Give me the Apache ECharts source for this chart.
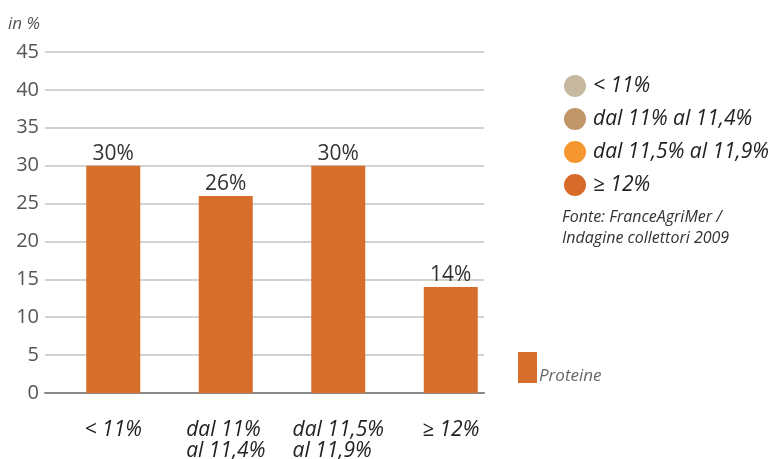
<!DOCTYPE html>
<html>
<head>
<meta charset="utf-8">
<script src="https://cdn.jsdelivr.net/npm/echarts@6/dist/echarts.min.js"></script>
<style>
  html, body { margin: 0; padding: 0; background: #fff; }
  #chart { width: 776px; height: 459px; }
</style>
</head>
<body>
<div id="chart"></div>
<script>
// Protein classes of the harvested wheat (share of collected volume, %)
const categories = ['< 11%', 'dal 11%\nal 11,4%', 'dal 11,5%\nal 11,9%', '≥ 12%'];
const proteine = [30, 26, 30, 14];
const seriesName = 'Proteine';
const classNames = ['< 11%', 'dal 11% al 11,4%', 'dal 11,5% al 11,9%', '≥ 12%'];
const yMin = 0, yMax = 45, yStep = 5;
const unitLabel = 'in %';
const sourceLines = ['Fonte: FranceAgriMer /', 'Indagine collettori 2009'];

const classColors = ['#c7b9a0', '#c1976a', '#f5962f', '#d86b2a'];
const barColor = '#d86e2b';
const FONT = "'Open Sans', 'DejaVu Sans', sans-serif";

const chart = echarts.init(document.getElementById('chart'), null, { renderer: 'canvas' });

const classSeries = classNames.map((name, i) => ({
  name: name,
  type: 'scatter',
  xAxisIndex: 1,
  yAxisIndex: 1,
  data: [],
  itemStyle: { color: classColors[i], opacity: 1 }
}));

chart.setOption({
  animation: false,
  textStyle: { fontFamily: FONT },
  grid: [
    { left: 45, right: 292, top: 52, bottom: 66, outerBoundsMode: 'none', containLabel: false },
    { left: 57, width: 450, top: 52, bottom: 66, outerBoundsMode: 'none', containLabel: false }
  ],
  xAxis: [
    {
      gridIndex: 0, type: 'category', data: categories,
      axisLine: { show: true, lineStyle: { color: '#8a8a8a', width: 2 } },
      axisTick: { show: false }, axisLabel: { show: false }, splitLine: { show: false }
    },
    {
      gridIndex: 1, type: 'category', data: categories,
      axisLine: { show: false }, axisTick: { show: false },
      axisLabel: {
        margin: 27,
        fontFamily: FONT,
        formatter: v => v.split('\n').map(l => '{a|' + l + '}').join('\n'),
        rich: {
          a: { fontSize: 21, fontStyle: 'italic', color: '#222', lineHeight: 21, align: 'left', fontFamily: FONT }
        }
      }
    }
  ],
  yAxis: [
    {
      gridIndex: 0, type: 'value', min: yMin, max: yMax, interval: yStep,
      axisLine: { show: false }, axisTick: { show: false },
      axisLabel: { fontSize: 20, color: '#555', margin: 6, fontFamily: FONT },
      splitLine: { show: true, lineStyle: { color: '#d2d2d2', width: 2 } }
    },
    {
      gridIndex: 1, type: 'value', min: yMin, max: yMax, interval: yStep,
      show: false
    }
  ],
  legend: [
    {
      data: [seriesName],
      left: 518, top: 352, padding: 0,
      itemWidth: 19, itemHeight: 31, itemGap: 0,
      icon: 'rect',
      formatter: name => '{p|' + name + '}',
      textStyle: {
        fontFamily: FONT,
        rich: { p: { fontSize: 17, fontStyle: 'italic', color: '#666', fontFamily: FONT, padding: [18, 0, 0, -3] } }
      },
      selectedMode: false
    },
    {
      data: classNames,
      orient: 'vertical',
      left: 564, top: 75, padding: 0,
      icon: 'circle',
      itemWidth: 22, itemHeight: 22, itemGap: 11,
      itemStyle: { opacity: 1 },
      textStyle: { fontSize: 21, fontStyle: 'italic', color: '#222', fontFamily: FONT, padding: [0, 0, 0, 2] },
      selectedMode: false
    }
  ],
  series: [
    {
      name: seriesName,
      type: 'bar',
      xAxisIndex: 1, yAxisIndex: 1,
      data: proteine,
      barWidth: 54,
      itemStyle: { color: barColor },
      label: {
        show: true, position: 'top', distance: 1,
        formatter: p => p.value + '%',
        fontSize: 21, color: '#333', fontFamily: FONT
      }
    },
    ...classSeries
  ],
  graphic: [
    {
      type: 'text', left: 8, top: 16,
      style: { text: unitLabel, fill: '#555', font: 'italic 17px ' + FONT }
    },
    {
      type: 'text', left: 562, top: 207,
      style: { text: sourceLines.join('\n'), fill: '#333', font: 'italic 16px ' + FONT, lineHeight: 21 }
    }
  ]
});
</script>
</body>
</html>
